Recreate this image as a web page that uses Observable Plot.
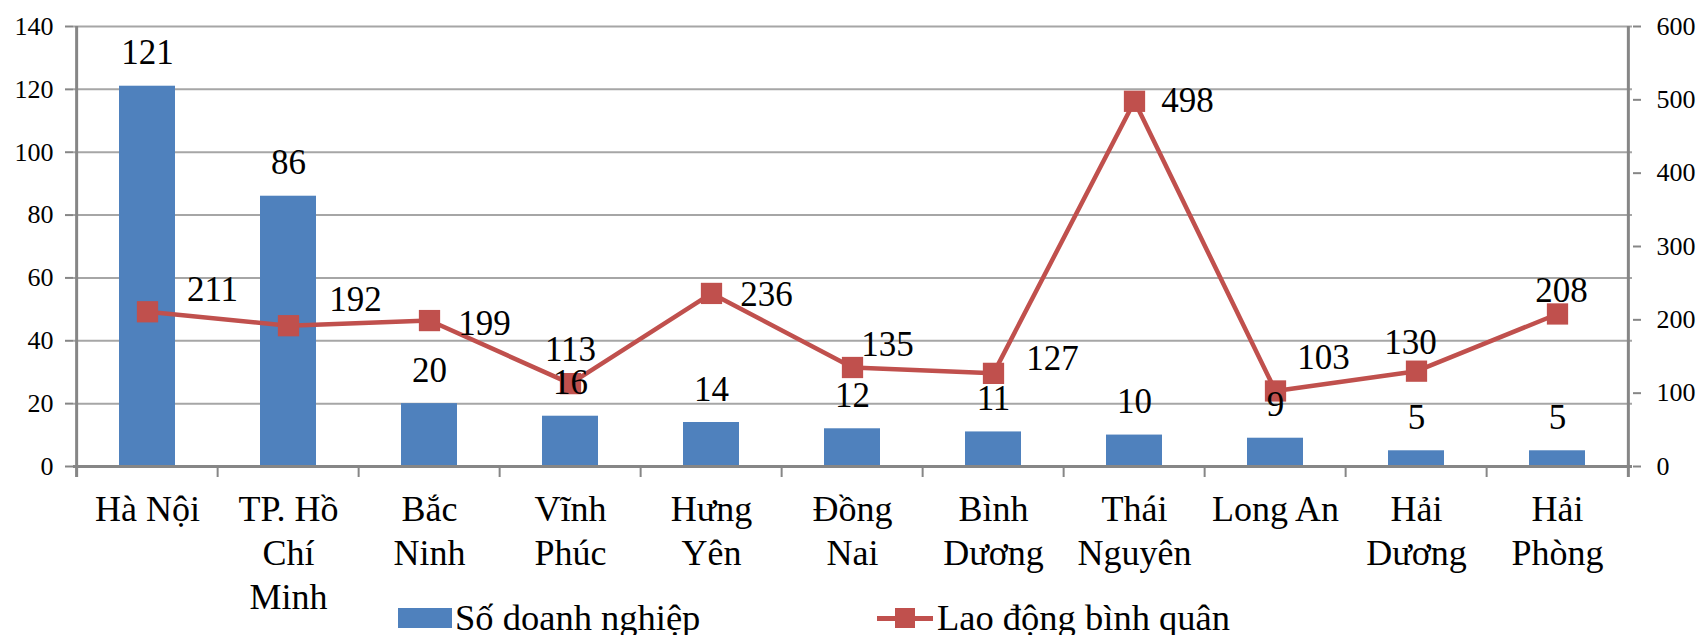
<!DOCTYPE html>
<html>
<head>
<meta charset="utf-8">
<script src="https://cdn.jsdelivr.net/npm/d3@7"></script>
<script src="https://cdn.jsdelivr.net/npm/@observablehq/plot@0.6"></script>
<style>
  html, body { margin: 0; padding: 0; background: #fff; }
  body { width: 1700px; height: 635px; overflow: hidden; font-family: "Liberation Serif", "Times New Roman", serif; }
  #legend { position: relative; width: 1700px; height: 39px; overflow: hidden; }
  #legend .sw { position: absolute; }
  #legend .lab { position: absolute; font-size: 36.5px; line-height: 36.5px; color: #000; white-space: nowrap; }
</style>
</head>
<body>
<div id="chart"></div>
<div id="legend"></div>
<script>
// ---- data ----
const categories = ["Hà Nội", "TP. Hồ Chí Minh", "Bắc Ninh", "Vĩnh Phúc", "Hưng Yên", "Đồng Nai", "Bình Dương", "Thái Nguyên", "Long An", "Hải Dương", "Hải Phòng"];
const categoryLabels = ["Hà Nội", "TP. Hồ\nChí\nMinh", "Bắc\nNinh", "Vĩnh\nPhúc", "Hưng\nYên", "Đồng\nNai", "Bình\nDương", "Thái\nNguyên", "Long An", "Hải\nDương", "Hải\nPhòng"];
const soDoanhNghiep = [121, 86, 20, 16, 14, 12, 11, 10, 9, 5, 5];
const laoDongBinhQuan = [211, 192, 199, 113, 236, 135, 127, 498, 103, 130, 208];
const leftTicks = [0, 20, 40, 60, 80, 100, 120, 140];
const rightTicks = [0, 100, 200, 300, 400, 500, 600];
const seriesNames = ["Số doanh nghiệp", "Lao động bình quân"];

// ---- layout (not data) ----
const lineLabelOffsets = [[65, -22], [67, -26], [55, 3], [0, -34], [55, 1], [35, -23], [59, -15], [53, -1], [48, -33], [-6, -28], [4, -23]];
const W = 1700, H = 596, mL = 73, mR = 68, mT = 26, mB = 130;
const leftMax = 140, rightMax = 600;
const step = (W - mL - mR) / categories.length;
const ppu = (H - mT - mB) / leftMax;
const tickDown = 11 / ppu;
const toLeft = v => v * leftMax / rightMax;
const barColor = "#4F81BD", lineColor = "#C0504D", axisColor = "#868686", gridColor = "#a6a6a6";
const serif = "'Liberation Serif', 'Times New Roman', serif";

const data = categories.map((c, i) => ({c, n: soDoanhNghiep[i], l: laoDongBinhQuan[i], label: categoryLabels[i]}));

const lineLabelMarks = data.map((d, i) => Plot.text([d], {
  x: "c", y: e => toLeft(e.l), text: e => String(e.l),
  dx: lineLabelOffsets[i][0], dy: lineLabelOffsets[i][1],
  fontSize: 35, fill: "#000", textAnchor: "middle", lineAnchor: "middle"
}));

const chart = Plot.plot({
  width: W, height: H,
  marginLeft: mL, marginRight: mR, marginTop: mT, marginBottom: mB,
  style: {fontFamily: serif, background: "#fff", color: "#000", overflow: "visible"},
  x: {domain: categories, paddingInner: 0.6, paddingOuter: 0.3, axis: null},
  y: {domain: [0, leftMax], axis: null, label: null},
  marks: [
    Plot.ruleY(leftTicks.filter(v => v > 0), {stroke: gridColor, strokeWidth: 2}),
    Plot.barY(data, {x: "c", y: "n", fill: barColor}),
    Plot.ruleY([0], {stroke: axisColor, strokeWidth: 3}),
    Plot.ruleX(categories, {x: d => d, y1: -tickDown, y2: 0, dx: -step / 2, stroke: axisColor, strokeWidth: 2}),
    Plot.ruleX([categories[0]], {x: d => d, y1: -tickDown, y2: leftMax, dx: -step / 2, stroke: axisColor, strokeWidth: 3}),
    Plot.ruleX([categories[categories.length - 1]], {x: d => d, y1: -tickDown, y2: leftMax, dx: step / 2, stroke: axisColor, strokeWidth: 3}),
    Plot.axisY({ticks: leftTicks, tickSize: 8, tickPadding: 12, stroke: axisColor, strokeWidth: 2, fill: "#000", fontSize: 26, label: null}),
    Plot.axisY({anchor: "right", ticks: rightTicks.map(toLeft), tickFormat: d => String(Math.round(d * rightMax / leftMax)),
      tickSize: 8, tickPadding: 16, stroke: axisColor, strokeWidth: 2, fill: "#000", fontSize: 26, label: null}),
    Plot.line(data, {x: "c", y: d => toLeft(d.l), stroke: lineColor, strokeWidth: 4.5}),
    Plot.dot(data, {x: "c", y: d => toLeft(d.l), symbol: "square", r: 12, fill: lineColor, stroke: "none"}),
    Plot.text(data, {x: "c", y: "n", text: d => String(d.n), dy: -33, fontSize: 35, fill: "#000"}),
    ...lineLabelMarks,
    Plot.text(data, {x: "c", y: () => 0, text: "label", lineAnchor: "top", dy: 23, fontSize: 36, lineHeight: 1.22, fill: "#000"})
  ]
});
document.getElementById("chart").appendChild(chart);

// ---- legend ----
const legend = document.getElementById("legend");
legend.innerHTML = `
  <div class="sw" style="left:398px;top:12px;width:54px;height:20px;background:${barColor}"></div>
  <div class="lab" style="left:455px;top:4px">${seriesNames[0]}</div>
  <div class="sw" style="left:877px;top:20px;width:56px;height:5px;background:${lineColor}"></div>
  <div class="sw" style="left:895px;top:12px;width:20px;height:20px;background:${lineColor}"></div>
  <div class="lab" style="left:937px;top:4px">${seriesNames[1]}</div>
`;
</script>
</body>
</html>
